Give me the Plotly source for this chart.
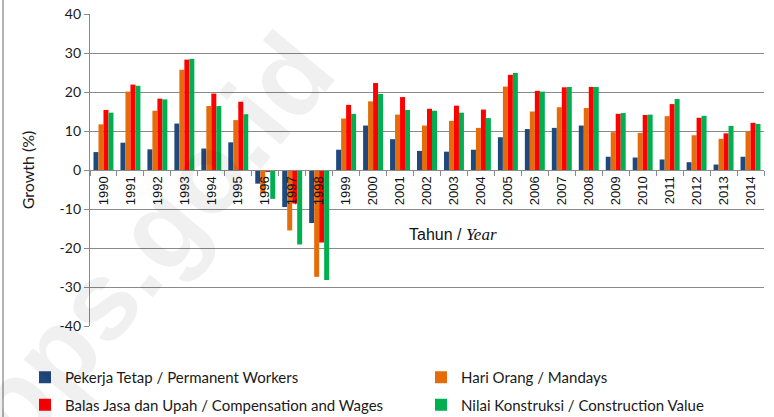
import plotly.graph_objects as go

years = [str(y) for y in range(1990, 2015)]

permanent_workers = [4.6, 7.0, 5.3, 11.9, 5.5, 7.1, -3.5, -9.5, -13.6, 5.2, 11.4, 7.9, 4.9, 4.7, 5.2,
                     8.4, 10.5, 10.8, 11.4, 3.4, 3.2, 2.7, 2.0, 1.4, 3.4]
mandays = [11.7, 20.1, 15.2, 25.7, 16.4, 12.8, -6.0, -15.5, -27.4, 13.2, 17.6, 14.2, 11.4, 12.6, 10.8,
           21.4, 15.0, 16.1, 15.9, 9.7, 9.5, 13.8, 8.9, 8.0, 9.9]
compensation = [15.4, 21.9, 18.3, 28.3, 19.6, 17.5, -0.3, -8.6, -18.6, 16.7, 22.3, 18.7, 15.7, 16.5, 15.5,
                24.4, 20.3, 21.2, 21.3, 14.4, 14.1, 16.9, 13.4, 9.4, 12.1]
construction_value = [14.7, 21.6, 18.1, 28.5, 16.4, 14.3, -7.4, -19.1, -28.2, 14.4, 19.5, 15.4, 15.2, 14.7, 13.3,
                      24.9, 20.1, 21.3, 21.3, 14.6, 14.2, 18.2, 13.9, 11.3, 11.8]

series_names = ["Pekerja Tetap / Permanent Workers", "Hari Orang / Mandays",
                "Balas Jasa dan Upah / Compensation and Wages", "Nilai Konstruksi / Construction Value"]
series_values = [permanent_workers, mandays, compensation, construction_value]
colors = ["#1F497D", "#E46C0A", "#FF0000", "#00B050"]
legends = ["legend", "legend2", "legend", "legend2"]

y_ticks = [40, 30, 20, 10, 0, -10, -20, -30, -40]

W, H = 774, 417
ML, MR, MT, MB = 90, 10, 14, 91
PW, PH = W - ML - MR, H - MT - MB


def px_x(p):
    return (p - ML) / PW


def px_y(p):
    return 1 - (p - MT) / PH


fig = go.Figure()
for i, (name, vals, c, lg) in enumerate(zip(series_names, series_values, colors, legends)):
    fig.add_trace(go.Bar(
        x=years, y=vals, name=name, marker=dict(color=c, line=dict(width=0)),
        legend=lg, legendgroup=f"g{i}", hoverinfo="x+y+name",
    ))

grid_col = "#8a8a8a"
fig.update_layout(
    width=W, height=H,
    margin=dict(l=ML, r=MR, t=MT, b=MB, autoexpand=False),
    paper_bgcolor="white", plot_bgcolor="white",
    barmode="group", bargap=0.26, bargroupgap=0,
    font=dict(family="Lato, Liberation Sans, sans-serif", size=14, color="#1a1a1a"),
    xaxis=dict(
        type="category", anchor="free", position=0.5,
        showline=True, linecolor=grid_col, linewidth=1.3,
        ticks="outside", tickson="boundaries", ticklen=5, tickcolor=grid_col, tickwidth=1.3,
        tickangle=-90, tickfont=dict(family="Liberation Sans, Arial, sans-serif", size=13, color="#111"),
        showgrid=False, zeroline=False,
    ),
    yaxis=dict(
        range=[-40, 40], tickvals=y_ticks, ticktext=[str(v) for v in y_ticks],
        showline=True, linecolor=grid_col, linewidth=1.3,
        ticks="outside", ticklen=5, tickcolor=grid_col, tickwidth=1.3,
        showgrid=True, gridcolor=grid_col, gridwidth=1.3, zeroline=False,
        tickfont=dict(family="Lato, sans-serif", size=14, color="#1a1a1a"),
        title=dict(text="Growth (%)", font=dict(family="Lato, sans-serif", size=16, color="#1a1a1a"), standoff=20),
    ),
    legend=dict(
        orientation="v", x=px_x(25), y=px_y(361), xanchor="left", yanchor="top",
        traceorder="grouped", tracegroupgap=5, bgcolor="rgba(0,0,0,0)",
        font=dict(family="Lato, sans-serif", size=15, color="#1a1a1a"), itemwidth=30,
    ),
    legend2=dict(
        orientation="v", x=px_x(421), y=px_y(361), xanchor="left", yanchor="top",
        traceorder="grouped", tracegroupgap=5, bgcolor="rgba(0,0,0,0)",
        font=dict(family="Lato, sans-serif", size=15, color="#1a1a1a"), itemwidth=30,
    ),
    showlegend=True,
)

fig.add_annotation(
    text="Tahun / <span style='font-family:Liberation Serif, Times New Roman, serif; font-style:italic; font-size:17px'>Year</span>",
    x=px_x(453), y=px_y(234), xref="paper", yref="paper", showarrow=False,
    xanchor="center", yanchor="middle",
    font=dict(family="Liberation Sans, Arial, sans-serif", size=16, color="#111"),
)

# watermark
fig.add_annotation(
    text="<b>bps.go.id</b>", x=px_x(150), y=px_y(240), xref="paper", yref="paper",
    xanchor="center", yanchor="middle",
    showarrow=False, textangle=-50,
    font=dict(family="Liberation Sans, Arial, sans-serif", size=112, color="rgba(0,0,0,0.06)"),
)

# left frame line
fig.add_shape(type="line", xref="paper", yref="paper", x0=px_x(3), x1=px_x(3),
              y0=px_y(H), y1=px_y(0), line=dict(color="#9a9a9a", width=1.5))

fig.write_html("out.html", config={"displayModeBar": False},
               post_script="document.body.style.margin='0';document.body.style.padding='0';")
